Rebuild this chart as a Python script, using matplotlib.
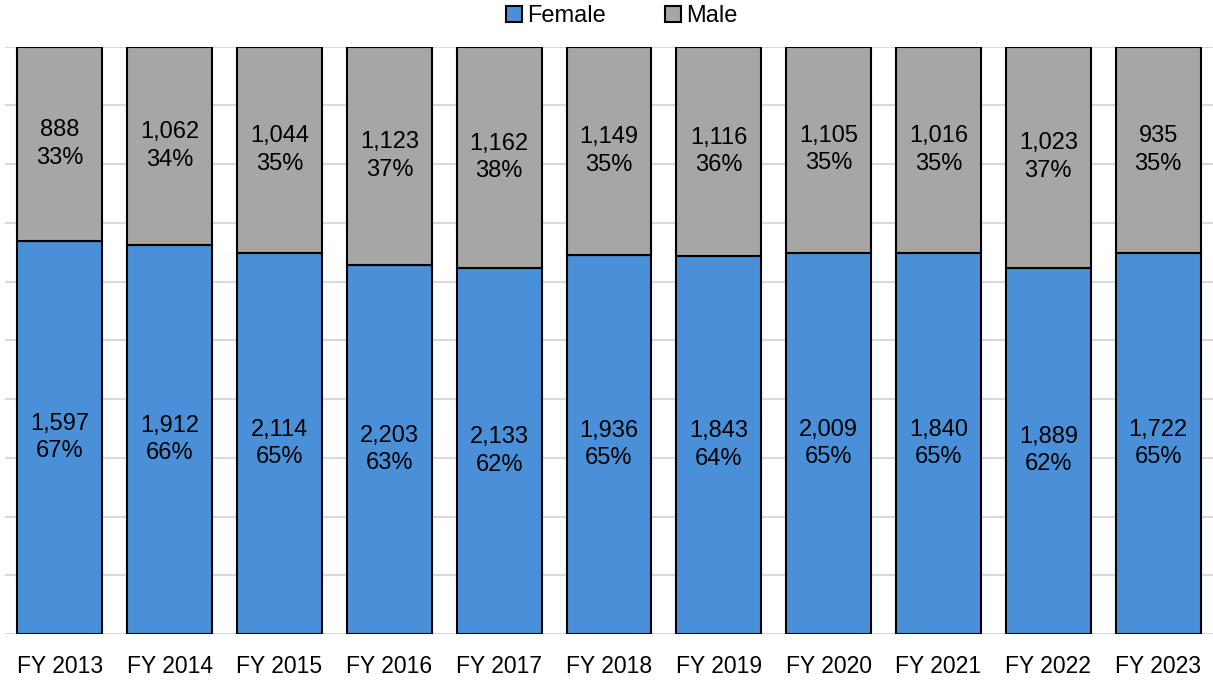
import matplotlib.pyplot as plt
import numpy as np

plt.rcParams['font.family'] = ['Liberation Sans', 'DejaVu Sans']

years = ["FY 2013", "FY 2014", "FY 2015", "FY 2016", "FY 2017", "FY 2018",
         "FY 2019", "FY 2020", "FY 2021", "FY 2022", "FY 2023"]
female_count = ["1,597", "1,912", "2,114", "2,203", "2,133", "1,936",
                "1,843", "2,009", "1,840", "1,889", "1,722"]
male_count = ["888", "1,062", "1,044", "1,123", "1,162", "1,149",
              "1,116", "1,105", "1,016", "1,023", "935"]
female_label = ["67%", "66%", "65%", "63%", "62%", "65%", "64%", "65%", "65%", "62%", "65%"]
male_label = ["33%", "34%", "35%", "37%", "38%", "35%", "36%", "35%", "35%", "37%", "35%"]
# bar shares (percent) as drawn
female_pct = [66.9, 66.2, 64.8, 62.8, 62.3, 64.5, 64.4, 64.9, 64.8, 62.4, 64.8]
male_pct = [33.1, 33.8, 35.2, 37.2, 37.7, 35.5, 35.6, 35.1, 35.2, 37.6, 35.2]

blue = '#4a90d9'
gray = '#a6a6a6'

fig = plt.figure(figsize=(12.13, 6.81), dpi=100)
ax = fig.add_axes([5 / 1213, 1 - 634 / 681, 1 - 5 / 1213, (634 - 46.7) / 681])

x = np.arange(len(years))
w = 0.773
ax.bar(x, female_pct, w, color=blue, edgecolor='black', linewidth=1.5, label='Female', zorder=3)
ax.bar(x, male_pct, w, bottom=female_pct, color=gray, edgecolor='black', linewidth=1.5,
       label='Male', zorder=3)

for i in range(len(years)):
    ax.text(x[i], female_pct[i] / 2, female_count[i] + "\n" + female_label[i],
            ha='center', va='center', fontsize=17, linespacing=1.32, zorder=4)
    ax.text(x[i], female_pct[i] + male_pct[i] / 2, male_count[i] + "\n" + male_label[i],
            ha='center', va='center', fontsize=17, linespacing=1.32, zorder=4)

ax.set_xlim(-0.5, len(years) - 0.5)
ax.set_ylim(0, 100)
ax.set_yticks(np.arange(0, 101, 10))
ax.set_yticklabels([])
ax.yaxis.grid(True, color='#d9d9d9', linewidth=1.5, zorder=0)
ax.tick_params(axis='y', length=0)
ax.tick_params(axis='x', length=0, labelsize=16.5, pad=15)
ax.set_xticks(x)
ax.set_xticklabels(years)
for s in ax.spines.values():
    s.set_visible(False)

fig.legend(*ax.get_legend_handles_labels(), loc='center',
           bbox_to_anchor=(622 / 1213, 1 - 16 / 681), ncol=2, frameon=False,
           fontsize=17, handlelength=0.65, handleheight=0.65, handletextpad=0.25,
           columnspacing=2.5, borderpad=0)

fig.savefig('out.png', dpi=100)
plt.close(fig)
